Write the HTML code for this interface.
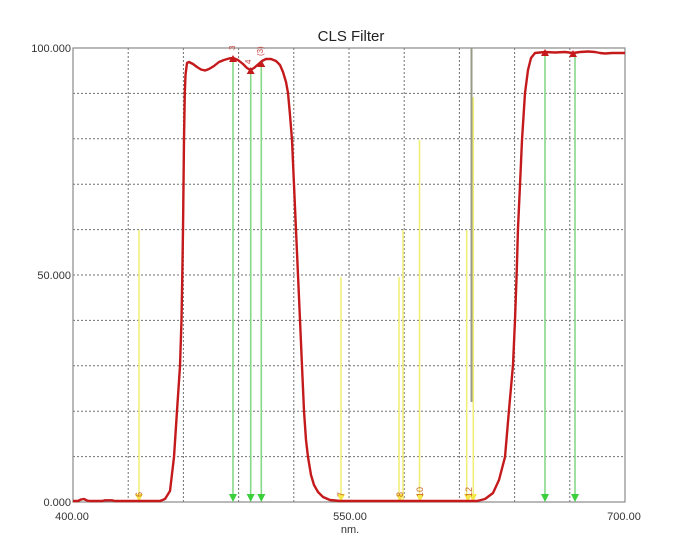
<!DOCTYPE html>
<html>
<head>
<meta charset="utf-8">
<style>
html,body{margin:0;padding:0;background:#fff;}
svg{display:block;}
text{font-family:"Liberation Sans",Arial,sans-serif;}
</style>
</head>
<body>
<svg width="675" height="540" viewBox="0 0 675 540" xmlns="http://www.w3.org/2000/svg">
<rect width="675" height="540" fill="#fff"/>
<text x="351" y="41" font-size="15" fill="#222" text-anchor="middle">CLS Filter</text>

<g stroke="#707070" stroke-width="1" stroke-dasharray="2,2" fill="none">
<line x1="128.2" y1="48" x2="128.2" y2="502"/>
<line x1="183.4" y1="48" x2="183.4" y2="502"/>
<line x1="238.6" y1="48" x2="238.6" y2="502"/>
<line x1="293.8" y1="48" x2="293.8" y2="502"/>
<line x1="349" y1="48" x2="349" y2="502"/>
<line x1="404.2" y1="48" x2="404.2" y2="502"/>
<line x1="459.4" y1="48" x2="459.4" y2="502"/>
<line x1="514.6" y1="48" x2="514.6" y2="502"/>
<line x1="569.8" y1="48" x2="569.8" y2="502"/>
<line x1="73" y1="93.4" x2="625" y2="93.4"/>
<line x1="73" y1="138.8" x2="625" y2="138.8"/>
<line x1="73" y1="184.2" x2="625" y2="184.2"/>
<line x1="73" y1="229.6" x2="625" y2="229.6"/>
<line x1="73" y1="275" x2="625" y2="275"/>
<line x1="73" y1="320.4" x2="625" y2="320.4"/>
<line x1="73" y1="365.8" x2="625" y2="365.8"/>
<line x1="73" y1="411.2" x2="625" y2="411.2"/>
<line x1="73" y1="456.6" x2="625" y2="456.6"/>
</g>

<rect x="73" y="48" width="552" height="454" fill="none" stroke="#8a8a8a" stroke-width="1.2"/>

<g stroke="#f2ee7a" stroke-width="1.6">
<line x1="139" y1="230" x2="139" y2="501"/>
<line x1="341" y1="277" x2="341" y2="501"/>
<line x1="399" y1="277" x2="399" y2="501"/>
<line x1="403" y1="230" x2="403" y2="501"/>
<line x1="419.5" y1="140" x2="419.5" y2="501"/>
<line x1="466.7" y1="230" x2="466.7" y2="501"/>
<line x1="473.3" y1="97" x2="473.3" y2="501"/>
</g>
<line x1="471.5" y1="48" x2="471.5" y2="402" stroke="#9a9a8a" stroke-width="2"/>

<g stroke="#86d886" stroke-width="1.6">
<line x1="233" y1="58" x2="233" y2="496"/>
<line x1="250.7" y1="70" x2="250.7" y2="496"/>
<line x1="261.3" y1="63" x2="261.3" y2="496"/>
<line x1="545" y1="52" x2="545" y2="496"/>
<line x1="575" y1="52" x2="575" y2="496"/>
</g>
<g fill="#3ccf3c">
<polygon points="229,494 237,494 233,502"/>
<polygon points="246.7,494 254.7,494 250.7,502"/>
<polygon points="257.3,494 265.3,494 261.3,502"/>
<polygon points="541,494 549,494 545,502"/>
<polygon points="571,494 579,494 575,502"/>
</g>
<g fill="#f5e84a">
<polygon points="135,494 143,494 139,502"/>
<polygon points="337,494 345,494 341,502"/>
<polygon points="396,494 404,494 400,502"/>
<polygon points="416,494 424,494 420,502"/>
<polygon points="464,494 472,494 468,502"/>
<polygon points="469,494 477,494 473,502"/>
</g>

<path fill="none" stroke="#c41a1c" stroke-width="2.4" stroke-linejoin="round" d="
M73,501 L78,501 L81,499.5 L84,499 L87,500.5 L90,501 L102,501 L105,500.3 L112,500.3 L115,501 L160,501
L165,499 L170,491 L174,457 L177,411 L180,366 L181.5,320 L182.3,275 L183,230 L184,140 L184.8,93 L185.5,75 L187,63 L189,62
L193,64 L197,67 L201,69.5 L205,70.5 L209,69 L214,66 L219,62 L224,60 L229,58.5 L233,58 L238,60 L243,64 L247,68 L250.5,70
L254,68 L258,64.5 L262,61 L266,59 L271,59 L276,61 L280,65 L283,72 L286,82 L288,93 L290,115 L292,140 L294,185
L296,230 L298,275 L300,320 L302,366 L304,411 L306,440 L308,457 L311,475 L314,485 L318,492 L323,497 L330,500 L340,501
L477,501 L485,499 L493,493 L499,480 L505,457 L509,410 L513,365 L515,320 L516.7,273 L518,228 L520,185 L522,140
L525,93 L528,70 L531,58 L535,53 L545,52 L555,52.5 L565,52 L573,53 L580,52 L588,51.5 L595,52 L600,53 L605,53.5 L612,53 L625,53"/>

<g fill="#c41a1c">
<polygon points="229,62 237,62 233,55"/>
<polygon points="246.7,74 254.7,74 250.7,67"/>
<polygon points="257.3,67 265.3,67 261.3,60"/>
<polygon points="541,56 549,56 545,49"/>
<polygon points="569,57 577,57 573,50"/>
</g>
<g font-size="8" fill="#c44">
<text transform="translate(235,50) rotate(-90)">3</text>
<text transform="translate(251,64) rotate(-90)">4</text>
<text transform="translate(263,56) rotate(-90)">(3)</text>
</g>
<g font-size="9" fill="#c8622a">
<text transform="translate(142,497) rotate(-90)">6</text>
<text transform="translate(344,497) rotate(-90)">7</text>
<text transform="translate(403,497) rotate(-90)">8</text>
<text transform="translate(423,497) rotate(-90)">10</text>
<text transform="translate(472,497) rotate(-90)">12</text>
</g>

<g font-size="11" fill="#333">
<text x="71" y="52" text-anchor="end">100.000</text>
<text x="71" y="279" text-anchor="end">50.000</text>
<text x="71" y="506" text-anchor="end">0.000</text>
<text x="72" y="520" text-anchor="middle">400.00</text>
<text x="350" y="520" text-anchor="middle">550.00</text>
<text x="624" y="520" text-anchor="middle">700.00</text>
<text x="350" y="533" text-anchor="middle">nm.</text>
</g>
</svg>
</body>
</html>
